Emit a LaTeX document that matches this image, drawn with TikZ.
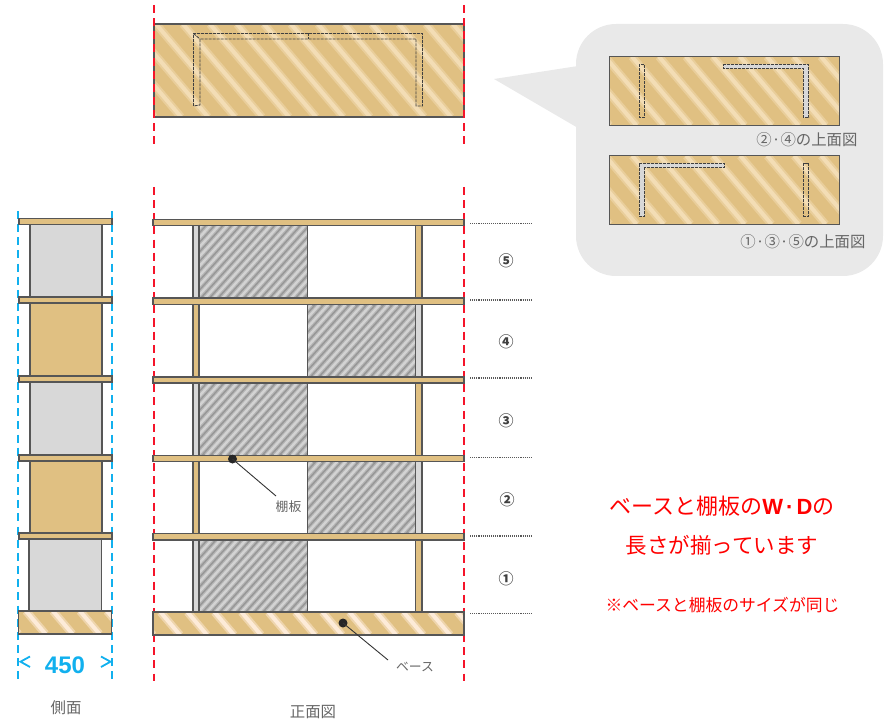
\documentclass[tikz,border=0pt]{standalone}
\usepackage{fontspec}
\setmainfont{Noto Sans CJK JP}
\newfontfamily\latinbold{Liberation Sans}[Scale=1]
\definecolor{wood}{HTML}{E0C082}
\definecolor{woodlight}{HTML}{F3DDB5}
\definecolor{woodpale}{HTML}{FDEBD8}
\definecolor{edge}{HTML}{565656}
\definecolor{panel}{HTML}{D8D8D8}
\definecolor{graydark}{HTML}{969696}
\definecolor{graylight}{HTML}{D3D3D3}
\definecolor{bubble}{HTML}{E9E9E9}
\definecolor{guidecyan}{HTML}{11B0EE}
\definecolor{guidered}{HTML}{F5142A}
\definecolor{lbl}{HTML}{666666}
\newcommand{\hatchbox}[9]{% x0 y0 x1 y1 base stripe period width slant
  \begin{scope}
    \clip (#1,#2) rectangle (#3,#4);
    \fill[#5] (#1,#2) rectangle (#3,#4);
    \pgfmathsetmacro{\hbh}{(#4-#2)*abs(#9)}
    \pgfmathsetmacro{\hbs}{#1-\hbh-#7}
    \pgfmathsetmacro{\hbn}{int((#3-#1+2*\hbh+2*#7)/#7)}
    \foreach \hbk in {0,...,\hbn}{
      \pgfmathsetmacro{\hba}{\hbs+\hbk*#7}
      \pgfmathsetmacro{\hbb}{\hba+(#4-#2)*(#9)}
      \draw[#6,opacity=0.5,line width=1.6*#8] (\hba,#2) -- (\hbb,#4);
      \draw[#6,line width=0.8*#8] (\hba,#2) -- (\hbb,#4);
    }
  \end{scope}}
\newcommand{\woodbox}[4]{\hatchbox{#1}{#2}{#3}{#4}{wood}{woodlight}{27}{5pt}{0.85}\draw[outline] (#1,#2) rectangle (#3,#4);}
\newcommand{\basebox}[4]{\hatchbox{#1}{#2}{#3}{#4}{wood}{woodpale}{27}{5pt}{0.85}\draw[outline] (#1,#2) rectangle (#3,#4);}
\newcommand{\grayhatch}[4]{\hatchbox{#1}{#2}{#3}{#4}{graydark}{graylight}{8.6}{3pt}{-0.9}\draw[outline] (#1,#2) rectangle (#3,#4);}
\tikzset{
  outline/.style={draw=edge,line width=1.2pt},
  plank/.style={fill=wood,draw=edge,line width=1.2pt},
  endview/.style={fill=panel,draw=edge,line width=1.2pt},
  reddash/.style={guidered,line width=2.3pt,dash pattern=on 8pt off 5.15pt},
  cyandash/.style={guidecyan,line width=2.3pt,dash pattern=on 8pt off 5.15pt},
  hidden/.style={draw=black!75,line width=0.9pt,dash pattern=on 3pt off 1pt},
  dotline/.style={draw=black!65,line width=1.1pt,dash pattern=on 1.1pt off 1pt},
  leader/.style={draw=black!80,line width=0.9pt},
  leaderdot/.style={circle,fill=black!85,inner sep=0pt,minimum size=9pt},
  caption/.style={text=lbl,font=\fontsize{15.4}{17}\selectfont,inner sep=0pt},
  small/.style={text=lbl,font=\fontsize{12.8}{14}\selectfont,inner sep=0pt},
  rownum/.style={text=black!75,font=\bfseries\fontsize{15}{17}\selectfont,inner sep=0pt},
  redbig/.style={text=red,font=\fontsize{21.5}{24}\selectfont,inner sep=0pt},
  redsmall/.style={text=red,font=\fontsize{16.8}{19}\selectfont,inner sep=0pt},
}
\begin{document}
\begin{tikzpicture}[x=1pt,y=-1pt]
\useasboundingbox (0,0) rectangle (884,722);
% --- top view ---
\woodbox{154}{24}{464}{117}
\draw[hidden] (193.5,106) -- (193.5,33.5) -- (422.5,33.5) -- (422.5,106) -- (416,106) -- (416,39) -- (200,39) -- (200,105) -- cycle;
\draw[hidden] (308,33.5) -- (308,39);
\draw[hidden] (193.5,33.5) -- (200,39);
\draw[reddash] (154,5) -- (154,146);
\draw[reddash] (464,5) -- (464,146);
% --- callout ---
\fill[bubble] (494,79) -- (578,66) -- (578,128) -- cycle;
\fill[bubble,rounded corners=40pt] (576,24) rectangle (883,276);
\woodbox{609.5}{56.5}{839.5}{125.5}
\draw[hidden] (639.3,64.3) rectangle (644.7,117.3);
\draw[hidden,fill=panel] (723.3,64.3) -- (808.7,64.3) -- (808.7,117.7) -- (803.3,117.7) -- (803.3,68.7) -- (723.3,68.7) -- cycle;
\node[caption] (capa) at (807,140) {②·④の上面図};
\woodbox{609.5}{155.7}{839.5}{224.3}
\draw[hidden,fill=panel] (639.3,163.3) -- (724.3,163.3) -- (724.3,167.7) -- (644.7,167.7) -- (644.7,216.3) -- (639.3,216.3) -- cycle;
\draw[hidden] (803.5,163.3) rectangle (808.7,216.3);
\node[caption] (capb) at (803,242) {①·③·⑤の上面図};
% --- side view ---
\draw[cyandash] (18,211) -- (18,681);
\draw[cyandash] (112,211) -- (112,681);
\draw[endview] (30,224.5) rectangle (102,297);
\draw[plank] (30,303) rectangle (102,376);
\draw[endview] (30,382) rectangle (102,455);
\draw[plank] (30,461) rectangle (102,533);
\draw[endview] (29,539) rectangle (101.5,611);
\foreach \ya/\yb in {218.5/224.5,297/303,376/382,455/461,533/539}
  \draw[plank] (19,\ya) rectangle (112,\yb);
\basebox{18.5}{611}{111.5}{634}
\draw[guidecyan,line width=1.8pt] (30,656.5) -- (20.5,661.7) -- (30,667);
\draw[guidecyan,line width=1.8pt] (101,656.5) -- (110.5,661.7) -- (101,667);
\node[text=guidecyan,font=\latinbold\bfseries\fontsize{24}{26}\selectfont,inner sep=0pt] (dim) at (65,665) {450};
\node[caption] (sidelbl) at (66,708) {側面};
% --- front view ---
\draw[reddash] (154,187) -- (154,681);
\draw[reddash] (464,187) -- (464,681);
% rows 5,3,1
\foreach \ya/\yb in {225/298,383/455.5,540/612}{
  \grayhatch{199}{\ya}{307.5}{\yb}
  \draw[endview] (193,\ya) rectangle (199,\yb);
  \draw[plank] (415.5,\ya) rectangle (422,\yb);
}
% rows 4,2
\foreach \ya/\yb in {304.5/377,461.5/533.5}{
  \grayhatch{307.5}{\ya}{415.5}{\yb}
  \draw[plank] (193,\ya) rectangle (199,\yb);
  \draw[endview] (415.5,\ya) rectangle (422,\yb);
}
\foreach \ya/\yb in {219.5/225.5,298/304.5,377/383,455.5/461.5,533.5/540}
  \draw[plank] (153,\ya) rectangle (464,\yb);
\basebox{153}{612}{464}{635}
% row guides
\coordinate (ga1) at (470,223.5); \coordinate (gb1) at (531,223.5);
\coordinate (ga2) at (470,300);   \coordinate (gb2) at (531,300);
\coordinate (ga3) at (470,378);   \coordinate (gb3) at (531,378);
\coordinate (ga4) at (470,457.5); \coordinate (gb4) at (531,457.5);
\coordinate (ga5) at (470,536);   \coordinate (gb5) at (531,536);
\coordinate (ga6) at (470,613.5); \coordinate (gb6) at (531,613.5);
\foreach \i in {1,...,6} \draw[dotline] (ga\i) -- (gb\i);
\node[rownum] (r5) at (506,261) {⑤};
\node[rownum] (r4) at (506,342) {④};
\node[rownum] (r3) at (506,421) {③};
\node[rownum] (r2) at (507,500) {②};
\node[rownum] (r1) at (506,579) {①};
% leaders
\node[leaderdot] (shelfdot) at (232.5,459) {};
\coordinate (shelfend) at (276,496);
\draw[leader] (shelfdot.center) -- (shelfend);
\node[small] (shelflbl) at (288.5,507) {棚板};
\node[leaderdot] (basedot) at (343,623) {};
\coordinate (baseend) at (388,660);
\draw[leader] (basedot.center) -- (baseend);
\node[small] (baselbl) at (415,667) {ベース};
\node[caption] (frontlbl) at (313,712) {正面図};
% red notes
\node[redbig,font=\fontsize{22}{24}\selectfont] (n1) at (722,506) {ベースと棚板の{\latinbold\bfseries W\kern3pt·\kern3pt D}の};
\node[redbig] (n2) at (722,545) {長さが揃っています};
\node[redsmall] (n3) at (722.5,605) {※ベースと棚板のサイズが同じ};
\end{tikzpicture}
\end{document}
